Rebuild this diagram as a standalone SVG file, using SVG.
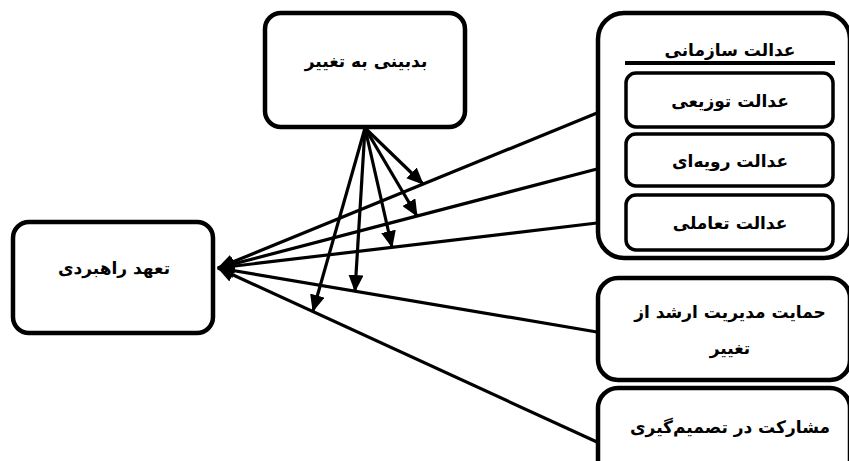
<svg xmlns="http://www.w3.org/2000/svg" width="849" height="461" viewBox="0 0 849 461">
<style>
.box{fill:#fff;stroke:#000;stroke-width:4.5}
.inner{fill:#fff;stroke:#000;stroke-width:3.5}
.t{font-family:"DejaVu Sans",sans-serif;font-weight:bold;font-size:17px;fill:#000;text-anchor:middle}
.ln{stroke:#000;stroke-width:3.2;fill:none}
</style>
<defs>
<marker id="ah" markerUnits="userSpaceOnUse" markerWidth="17" markerHeight="15" refX="16" refY="7.5" orient="auto">
<path d="M0,0 L17,7.5 L0,15 z" fill="#000"/>
</marker>
</defs>
<rect width="849" height="461" fill="#fff"/>
<g id="connectors">
<line class="ln" x1="597" y1="113" x2="218" y2="268" marker-end="url(#ah)"/>
<line class="ln" x1="597" y1="169" x2="218" y2="268" marker-end="url(#ah)"/>
<line class="ln" x1="597" y1="223" x2="218" y2="268" marker-end="url(#ah)"/>
<line class="ln" x1="597" y1="332" x2="218" y2="268" marker-end="url(#ah)"/>
<line class="ln" x1="597" y1="442" x2="218" y2="268" marker-end="url(#ah)"/>
<line class="ln" x1="365" y1="128" x2="423" y2="184" marker-end="url(#ah)"/>
<line class="ln" x1="365" y1="128" x2="417" y2="216" marker-end="url(#ah)"/>
<line class="ln" x1="365" y1="128" x2="392" y2="247" marker-end="url(#ah)"/>
<line class="ln" x1="365" y1="128" x2="355" y2="291" marker-end="url(#ah)"/>
<line class="ln" x1="365" y1="128" x2="313" y2="311" marker-end="url(#ah)"/>
</g>
<g id="pessimism">
<rect class="box" x="265" y="13" width="200" height="114" rx="16"/>
<text class="t" x="366" y="67" direction="rtl">بدبینی به تغییر</text>
</g>
<g id="commitment">
<rect class="box" x="13" y="222" width="200" height="111" rx="16"/>
<text class="t" x="114" y="274" direction="rtl">تعهد راهبردی</text>
</g>
<g id="justice">
<rect class="box" x="598" y="13" width="252" height="245" rx="26"/>
<text class="t" x="730" y="56" direction="rtl">عدالت سازمانی</text>
<line x1="625" y1="63" x2="835" y2="63" stroke="#000" stroke-width="4"/>
</g>
<g id="distributive">
<rect class="inner" x="626" y="73" width="207" height="54" rx="10"/>
<text class="t" x="730" y="107" direction="rtl">عدالت توزیعی</text>
</g>
<g id="procedural">
<rect class="inner" x="626" y="134" width="207" height="52" rx="10"/>
<text class="t" x="730" y="167" direction="rtl">عدالت رویه‌ای</text>
</g>
<g id="interactional">
<rect class="inner" x="626" y="195" width="207" height="55" rx="10"/>
<text class="t" x="730" y="229" direction="rtl">عدالت تعاملی</text>
</g>
<g id="support">
<rect class="box" x="598" y="278" width="252" height="102" rx="20"/>
<text class="t" x="730" y="318" direction="rtl">حمایت مدیریت ارشد از</text>
<text class="t" x="730" y="354" direction="rtl">تغییر</text>
</g>
<g id="participation">
<rect class="box" x="598" y="388" width="252" height="95" rx="20"/>
<text class="t" x="730" y="433" direction="rtl">مشارکت در تصمیم‌گیری</text>
</g>
</svg>
